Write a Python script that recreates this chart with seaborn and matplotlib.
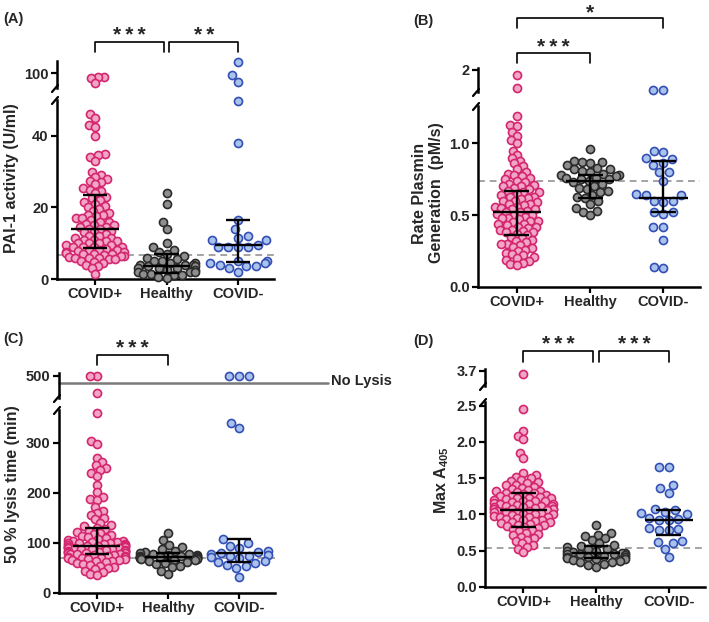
import warnings
import numpy as np
import pandas as pd
import matplotlib.pyplot as plt
import matplotlib.transforms as mtransforms
from matplotlib.collections import PathCollection
import seaborn as sns

warnings.filterwarnings("ignore")

groups = ["COVID+", "Healthy", "COVID-"]
edge_colors = ["#d3266f", "#2b2b2b", "#3450b4"]
face_colors = ["#f2a6c6", "#8e8e8e", "#a9c3ec"]

# (A) PAI-1 activity (U/ml)
pai_pos = [98.5, 98.3, 98, 96, 46, 45, 43, 42.5, 40, 35, 34.5, 34, 33, 30, 29, 28.5, 28,
           27.5, 27, 26.5, 25.5, 25, 24.5, 24, 23, 22.5, 22, 21.5, 21, 20.5, 20, 19.5, 19,
           18.5, 18, 18, 17.5, 17, 17, 16.5, 16, 16, 15.5, 15, 15, 14.5, 14.5, 14, 14, 13.5,
           13, 13, 12.5, 12, 12, 11.5, 11.5, 11, 11, 10.5, 10.5, 10, 10, 10, 9.5, 9.5, 9, 9,
           9, 8.8, 8.5, 8.2, 8, 8, 7.8, 7.5, 7.5, 7.2, 7, 7, 7, 6.8, 6.5, 6.5, 6.2, 6, 6, 5.8,
           5.5, 5.5, 5, 4.8, 4.5, 4, 3.5, 3, 1.5]
pai_healthy = [24, 21, 16, 14, 10, 9, 8, 7.5, 7, 6.5, 6, 5.5, 5, 5, 4.5, 4.5, 4, 4, 4, 3.5,
               3.5, 3, 3, 3, 2.5, 2.5, 2, 2, 2, 1.5, 1.5, 1, 1, 0.5, 0.3]
pai_neg = [104.5, 99.5, 96.5, 49.8, 38, 16.5, 14, 12, 11.5, 11, 11, 9.5, 9, 9, 9, 8.8, 5, 5,
           4.5, 4.5, 3.5, 4, 3.5, 3, 2]
pai_median = [14, 3.6, 9.4]
pai_q1 = [8.6, 1.6, 4.7]
pai_q3 = [23.6, 6.9, 16.6]
pai_ref = 6.6

# (B) Rate plasmin generation (pM/s)
rate_pos = [1.9, 1.68, 1.19, 1.13, 1.12, 1.08, 1.05, 1.02, 1.0, 0.95, 0.92, 0.9, 0.88, 0.86,
            0.84, 0.82, 0.8, 0.79, 0.78, 0.77, 0.76, 0.75, 0.74, 0.73, 0.72, 0.71, 0.7, 0.7,
            0.69, 0.68, 0.67, 0.66, 0.66, 0.65, 0.64, 0.63, 0.63, 0.62, 0.61, 0.6, 0.6, 0.59,
            0.58, 0.58, 0.57, 0.56, 0.56, 0.55, 0.54, 0.54, 0.53, 0.52, 0.52, 0.51, 0.5, 0.5,
            0.49, 0.48, 0.48, 0.47, 0.46, 0.46, 0.45, 0.44, 0.44, 0.43, 0.42, 0.42, 0.41, 0.4,
            0.4, 0.39, 0.38, 0.38, 0.37, 0.36, 0.35, 0.34, 0.33, 0.32, 0.31, 0.3, 0.3, 0.29,
            0.28, 0.27, 0.26, 0.25, 0.24, 0.23, 0.22, 0.21, 0.2, 0.19, 0.18, 0.17, 0.16, 0.15]
rate_healthy = [0.96, 0.88, 0.87, 0.87, 0.86, 0.85, 0.83, 0.82, 0.82, 0.81, 0.8, 0.79, 0.78,
                0.78, 0.77, 0.76, 0.76, 0.75, 0.75, 0.74, 0.73, 0.72, 0.7, 0.69, 0.68, 0.67,
                0.66, 0.64, 0.63, 0.62, 0.6, 0.58, 0.55, 0.53, 0.52, 0.5]
rate_neg = [1.63, 1.64, 0.95, 0.94, 0.9, 0.89, 0.86, 0.85, 0.8, 0.8, 0.74, 0.65, 0.64, 0.64,
            0.6, 0.6, 0.59, 0.52, 0.52, 0.51, 0.42, 0.42, 0.33, 0.13, 0.14]
rate_median = [0.52, 0.74, 0.62]
rate_q1 = [0.36, 0.62, 0.52]
rate_q3 = [0.67, 0.78, 0.88]
rate_ref = 0.735

# (C) 50 % lysis time (min)
lysis_pos = [500, 500, 465, 360, 305, 298, 270, 262, 256, 250, 246, 240, 235, 216, 202, 192,
             188, 186, 172, 165, 160, 157, 150, 148, 140, 136, 134, 130, 128, 125, 122, 120,
             118, 116, 114, 112, 110, 108, 106, 105, 104, 103, 102, 101, 100, 100, 99, 98, 97,
             96, 95, 95, 94, 93, 92, 92, 91, 90, 90, 89, 88, 88, 87, 86, 85, 85, 84, 83, 82,
             81, 80, 80, 79, 78, 78, 77, 76, 75, 74, 73, 72, 71, 70, 70, 69, 68, 67, 66, 65,
             64, 62, 60, 58, 56, 55, 52, 50, 48, 45, 42, 38, 36]
lysis_healthy = [120, 106, 96, 92, 88, 85, 82, 80, 79, 78, 77, 76, 75, 74, 74, 73, 73, 72, 72,
                 71, 71, 70, 70, 69, 68, 67, 66, 65, 63, 61, 58, 55, 52, 45, 38]
lysis_neg = [500, 500, 500, 340, 330, 108, 100, 95, 90, 85, 82, 80, 78, 76, 75, 74, 72, 70,
             65, 62, 60, 57, 55, 50, 32]
lysis_median = [94, 73, 80]
lysis_q1 = [78, 65, 63]
lysis_q3 = [131, 80, 108]
lysis_ref = 70
no_lysis = 486

# (D) Max A405
max_pos = [3.65, 2.45, 2.15, 2.08, 2.04, 1.85, 1.78,
           1.57, 1.54, 1.52, 1.5, 1.48, 1.46, 1.45, 1.43, 1.41, 1.4, 1.38, 1.37, 1.35, 1.34,
           1.33, 1.32, 1.31, 1.3, 1.29, 1.28, 1.27, 1.26, 1.25, 1.24, 1.23, 1.22, 1.22, 1.21,
           1.2, 1.19, 1.18, 1.18, 1.17, 1.16, 1.15, 1.15, 1.14, 1.13, 1.12, 1.12, 1.11, 1.1,
           1.1, 1.09, 1.08, 1.08, 1.07, 1.07, 1.06, 1.05, 1.05, 1.04, 1.03, 1.03, 1.02, 1.01,
           1.0, 1.0, 0.99, 0.98, 0.97, 0.97, 0.96, 0.95, 0.94, 0.93, 0.92, 0.91, 0.9, 0.89,
           0.88, 0.87, 0.86, 0.85, 0.84, 0.83, 0.82, 0.8, 0.79, 0.77, 0.75, 0.73, 0.71, 0.69,
           0.67, 0.65, 0.63, 0.6, 0.58, 0.55, 0.52, 0.48]
max_healthy = [0.85, 0.74, 0.72, 0.7, 0.67, 0.65, 0.6, 0.58, 0.57, 0.55, 0.53, 0.52, 0.5, 0.49,
               0.48, 0.47, 0.47, 0.46, 0.45, 0.45, 0.44, 0.43, 0.42, 0.42, 0.41, 0.4, 0.39,
               0.38, 0.37, 0.36, 0.35, 0.34, 0.32, 0.3, 0.28]
max_neg = [1.65, 1.66, 1.41, 1.36, 1.29, 1.07, 1.06, 1.04, 1.02, 1.01, 0.95, 0.94, 0.93, 0.92,
           0.81, 0.8, 0.79, 0.78, 0.64, 0.62, 0.61, 0.53, 0.41]
max_median = [1.06, 0.47, 0.93]
max_q1 = [0.83, 0.4, 0.72]
max_q3 = [1.29, 0.57, 1.06]
max_ref = 0.54

sns.set_theme(style="ticks")
plt.rcParams["font.family"] = ["Liberation Sans", "DejaVu Sans"]
plt.rcParams["font.weight"] = "bold"
plt.rcParams["mathtext.fontset"] = "custom"
plt.rcParams["mathtext.rm"] = "Liberation Sans:bold"
plt.rcParams["mathtext.default"] = "regular"

W, H = 709, 622
fig = plt.figure(figsize=(W / 100, H / 100), dpi=100)

# spacing used by the beeswarm layout per group; the big group is packed tighter
SWARM_SIZE = [3.3, 4.4, 5.6]
MARKER_SIZE = 5.8  # drawn marker size


def fx(x):
    return x / W


def fy(y):
    return 1 - y / H


def px_axes(l, t, r, b):
    return fig.add_axes([fx(l), fy(b), (r - l) / W, (b - t) / H])


def draw_panel(vals, med, q1, q3, ref, lo_box, hi_box, lo_lim, hi_lim,
               lo_ticks, lo_labels, hi_ticks, hi_labels):
    lo = px_axes(*lo_box)
    hi = px_axes(*hi_box)
    df = pd.DataFrame({"group": np.repeat(groups, [len(v) for v in vals]),
                       "value": np.concatenate(vals)})
    parts = [(lo, df[df.value <= lo_lim[1] + 1e-9], lo_lim),
             (hi, df[df.value >= hi_lim[0]], hi_lim)]
    for ax, sub, lim in parts:
        for i, g in enumerate(groups):
            d = sub[sub.group == g]
            if len(d) == 0:
                continue
            sns.swarmplot(data=d, x="group", y="value", order=groups, color=face_colors[i],
                          edgecolor=edge_colors[i], linewidth=1.2, size=SWARM_SIZE[i], ax=ax,
                          zorder=3, warn_thresh=1)
        for c in ax.collections:
            c.set_clip_on(False)
        ax.set_xlim(-0.53, 2.5)
        ax.set_ylim(*lim)
        ax.set_xlabel("")
        ax.set_ylabel("")
        for s in ["top", "right"]:
            ax.spines[s].set_visible(False)
        for s in ["left", "bottom"]:
            ax.spines[s].set_linewidth(1.8)
            ax.spines[s].set_color("black")
        ax.tick_params(axis="both", length=4, width=1.6, color="black", labelsize=10.5,
                       pad=2)
        ax.patch.set_alpha(0)

    hi.spines["bottom"].set_visible(False)
    hi.tick_params(axis="x", bottom=False, labelbottom=False)
    hi.set_yticks(hi_ticks)
    hi.set_yticklabels(hi_labels, fontweight="bold")
    lo.set_yticks(lo_ticks)
    lo.set_yticklabels(lo_labels, fontweight="bold")
    lo.set_xticks(range(3))
    lo.set_xticklabels(groups, fontweight="bold", fontsize=10.5)

    lo.axhline(ref, color="#a3a3a3", ls=(0, (3.5, 2.5)), lw=1.4, zorder=1)
    for i in range(3):
        lo.hlines(med[i], i - 0.33, i + 0.33, color="black", lw=1.7, zorder=6)
        lo.hlines([q1[i], q3[i]], i - 0.17, i + 0.17, color="black", lw=1.7, zorder=6)
        lo.vlines(i, q1[i], q3[i], color="black", lw=1.7, zorder=6)

    # broken-axis marks on the y spine
    x0 = lo_box[0]
    for yb in (hi_box[3], lo_box[1]):
        fig.add_artist(plt.Line2D([fx(x0 - 5), fx(x0 + 1)], [fy(yb + 4), fy(yb - 3)],
                                  color="black", lw=1.6))
    return lo, hi


def bracket(ax, x0, x1, y_top, y_leg, text, y_text):
    tr = mtransforms.blended_transform_factory(ax.transData, fig.transFigure)
    ax.plot([x0, x0, x1, x1], [fy(y_leg), fy(y_top), fy(y_top), fy(y_leg)],
            transform=tr, color="black", lw=1.2, clip_on=False)
    ax.text((x0 + x1) / 2, fy(y_text), text, transform=tr, ha="center", va="baseline",
            fontsize=15, fontweight="bold")


STARS3 = "*\u2009*\u2009*"
STARS2 = "*\u2009*"

# Panel A
loA, hiA = draw_panel([pai_pos, pai_healthy, pai_neg], pai_median, pai_q1, pai_q3, pai_ref,
                      (57, 100, 274, 279), (57, 61, 274, 88), (0, 50), (94, 105),
                      [0, 20, 40], ["0", "20", "40"], [100], ["100"])
bracket(loA, 0, 0.96, 42, 52, STARS3, 41)
bracket(loA, 1.04, 2, 42, 52, STARS2, 41)

# Panel B
loB, hiB = draw_panel([rate_pos, rate_healthy, rate_neg], rate_median, rate_q1, rate_q3,
                      rate_ref, (478, 106, 700, 287), (478, 68, 700, 92), (0, 1.26),
                      (1.6, 2.03), [0, 0.5, 1.0], ["0.0", "0.5", "1.0"], [2], ["2"])
bracket(loB, 0, 2, 18, 28, "*", 18)
bracket(loB, 0, 1, 53, 63, STARS3, 53)

# Panel C
loC, hiC = draw_panel([lysis_pos, lysis_healthy, lysis_neg], lysis_median, lysis_q1, lysis_q3,
                      lysis_ref, (59, 410, 275, 593), (59, 373, 275, 398), (0, 366),
                      (455, 505), [0, 100, 200, 300], ["0", "100", "200", "300"],
                      [500], ["500"])
bracket(loC, 0, 1, 355, 365, STARS3, 354)
trC = mtransforms.blended_transform_factory(hiC.transAxes, hiC.transData)
hiC.plot([0, 1.245], [no_lysis, no_lysis], transform=trC, color="#7a7a7a", lw=1.8,
         clip_on=False, zorder=2)
fig.text(fx(331), fy(381), "No Lysis", ha="left", va="center", fontsize=10.5,
         fontweight="bold")

# Panel D
loD, hiD = draw_panel([max_pos, max_healthy, max_neg], max_median, max_q1, max_q3, max_ref,
                      (485, 402, 705, 587), (485, 369, 705, 386), (0, 2.55), (3.5, 3.72),
                      [0, 0.5, 1.0, 1.5, 2.0, 2.5], ["0.0", "0.5", "1.0", "1.5", "2.0", "2.5"],
                      [3.7], ["3.7"])
bracket(loD, 0, 0.96, 351, 362, STARS3, 350)
bracket(loD, 1.04, 2, 351, 362, STARS3, 350)

# panel letters and axis titles
for lab, x, y in [("(A)", 3, 19), ("(B)", 413, 21), ("(C)", 3, 339), ("(D)", 413, 341)]:
    fig.text(fx(x), fy(y), lab, ha="left", va="center", fontsize=10.5, fontweight="bold")

fig.text(fx(12), fy(178), "PAI-1 activity (U/ml)", rotation=90, ha="center", va="center",
         fontsize=11.5, fontweight="bold")
fig.text(fx(428), fy(193), "Rate Plasmin\nGeneration  (pM/s)", rotation=90, ha="center",
         va="center", fontsize=11.5, fontweight="bold", multialignment="center",
         linespacing=1.1)
fig.text(fx(13), fy(484), "50 % lysis time (min)", rotation=90, ha="center", va="center",
         fontsize=11.5, fontweight="bold")
fig.text(fx(442), fy(480), "Max A$_{405}$", rotation=90, ha="center", va="center",
         fontsize=11.5, fontweight="bold")

# lay the swarms out once with their spacing, then freeze them and set the drawn dot size
fig.canvas.draw()
for ax in fig.axes:
    for c in ax.collections:
        if isinstance(c, PathCollection):
            if "draw" in c.__dict__:
                del c.draw
            c.set_sizes([MARKER_SIZE ** 2])

fig.savefig("out.png", dpi=100)
